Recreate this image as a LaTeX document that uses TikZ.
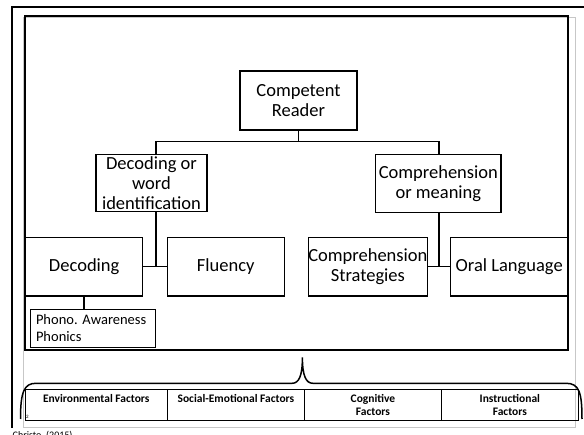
\documentclass[tikz,border=0pt]{standalone}
\usepackage{fontspec}
\setmainfont{Carlito}
\begin{document}
\frenchspacing
\begin{tikzpicture}[x=1pt,y=-1pt,
  box/.style={draw, line width=1.2pt, inner sep=0pt, align=center, minimum width=117pt, minimum height=58.7pt, font=\fontsize{18.5}{20}\selectfont},
  conn/.style={line width=1.2pt},
  tbl/.style={line width=1.3pt},
  fac/.style={inner sep=0pt, anchor=north, align=center, font=\bfseries\fontsize{11.5}{13}\selectfont}]
\useasboundingbox (0,0) rectangle (584,435);
% frames
\draw[line width=2.3pt] (12.2,428) -- (12.2,7) -- (590,7);
\draw[black!22, line width=0.8pt] (23,17) rectangle (575.7,427.3);
\draw[line width=2pt] (25.3,16.5) rectangle (568.3,350);
% boxes
\node[box, minimum height=59pt] (comp) at (298.5,100.5) {Competent\\Reader};
\node[box, minimum width=111pt, minimum height=57pt] (dwi) at (151.5,183.2) {Decoding or\\word\\identification};
\node[box, minimum width=125.3pt, minimum height=58pt] (com) at (438.35,183.7) {Comprehension\\or meaning};
\node[box] (dec) at (84.2,266.65) {Decoding};
\node[box] (flu) at (225.7,266.65) {Fluency};
\node[box, minimum width=117.7pt] (cs) at (367.85,266.65) {Comprehension\\Strategies};
\node[box] (oral) at (509.2,266.65) {Oral Language};
\node[box, minimum width=124.6pt, minimum height=38.4pt, align=left, text width=114pt, font=\fontsize{14.5}{17}\selectfont] (pho) at (93,328.5) {\mbox{Phono.\ Awareness}\\Phonics};
% connectors
\coordinate (jl) at (156,141.7);
\coordinate (jr) at (439,141.7);
\coordinate (kl) at (156,266.65);
\coordinate (kr) at (439,266.65);
\draw[conn] (comp.south) -- (comp.south |- jl);
\draw[conn] (dwi.north -| jl) -- (jl) -- (jr) -- (com.north -| jr);
\draw[conn] (dwi.south -| kl) -- (kl);
\draw[conn] (dec.east) -- (flu.west);
\draw[conn] (com.south -| kr) -- (kr);
\draw[conn] (cs.east) -- (oral.west);
\draw[line width=1.8pt] (dec.south) -- (pho.north -| dec.south);
% brace
\draw[line width=1.5pt] (20.5,419) .. controls (20.5,392) and (24,383.3) .. (36,383.3) -- (292,383.3)
  .. controls (299,383.3) and (302.4,376) .. (302.4,357.3)
  .. controls (302.4,376) and (306,383.3) .. (313,383.3) -- (566,383.3)
  .. controls (579,383.3) and (582,392) .. (582,419);
% factor table
\draw[tbl] (25.3,389.3) rectangle (578.4,420.7);
\draw[tbl] (167.2,389.3) -- (167.2,420.7);
\draw[tbl] (304.6,389.3) -- (304.6,420.7);
\draw[tbl] (441.3,389.3) -- (441.3,420.7);
\node[fac] (f1) at (96.25,393.5) {\rule{0pt}{9pt}Environmental Factors};
\node[fac] (f2) at (235.9,393.5) {\rule{0pt}{9pt}Social-Emotional Factors};
\node[fac] (f3) at (372.95,393.5) {\rule{0pt}{9pt}Cognitive\\Factors};
\node[fac] (f4) at (509.85,393.5) {\rule{0pt}{9pt}Instructional\\Factors};
% page number and citation
\node[inner sep=0pt, font=\fontsize{5}{5}\selectfont] (pg) at (27.5,417) {2};
\node[anchor=north west, inner sep=0pt, font=\fontsize{10}{12}\selectfont] (cite) at (12.5,430.5) {Christo. (2015)};
\end{tikzpicture}
\end{document}
